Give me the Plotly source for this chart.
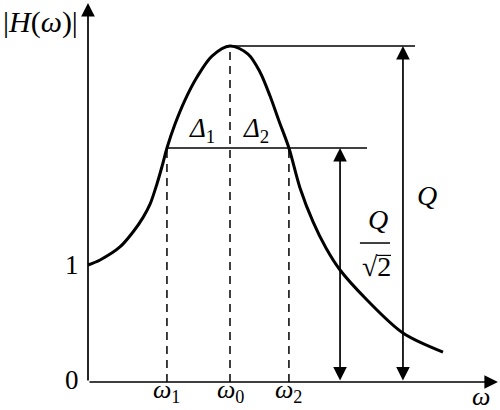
import plotly.graph_objects as go

# Curve (x: ω with ω0 = 1, y: |H(ω)|)
omega = [0.0, 0.085, 0.225, 0.317, 0.387, 0.437, 0.486, 0.528, 0.556, 0.613, 0.683, 0.768, 0.873,
         1.0, 1.127, 1.211, 1.282, 1.345, 1.415, 1.493, 1.585, 1.676, 1.775, 1.965, 2.218, 2.5]
H = [1.0, 1.043, 1.154, 1.282, 1.405, 1.520, 1.695, 1.872, 2.000, 2.205, 2.410, 2.607, 2.786,
     2.872, 2.803, 2.650, 2.444, 2.231, 2.000, 1.658, 1.368, 1.145, 0.957, 0.701, 0.419, 0.256]

w1, w0, w2 = 0.556, 1.0, 1.415
Q = 2.872
Q_half = 2.0
x_axis_end, y_axis_end = 2.887, 3.24
q_line_end, half_line_end = 2.303, 1.965
q_arrow_x, half_arrow_x = 2.218, 1.775

FONT = "Liberation Serif"
BLACK = "black"

fig = go.Figure()

fig.add_trace(go.Scatter(x=omega, y=H, mode="lines", line=dict(color=BLACK, width=3, shape="spline", smoothing=0.9),
                         hoverinfo="skip", showlegend=False))

# horizontal reference lines
fig.add_trace(go.Scatter(x=[w0, q_line_end], y=[Q, Q], mode="lines", line=dict(color=BLACK, width=1.5),
                         hoverinfo="skip", showlegend=False))
fig.add_trace(go.Scatter(x=[w1, half_line_end], y=[Q_half, Q_half], mode="lines", line=dict(color=BLACK, width=1.5),
                         hoverinfo="skip", showlegend=False))

# dashed verticals
for xv, yv in [(w1, Q_half), (w0, Q), (w2, Q_half)]:
    fig.add_trace(go.Scatter(x=[xv, xv], y=[0, yv], mode="lines", line=dict(color=BLACK, width=1.5, dash="8px,6px"),
                             hoverinfo="skip", showlegend=False))

def arrow(x0, y0, x1, y1, both=False):
    fig.add_annotation(x=x1, y=y1, ax=x0, ay=y0, xref="x", yref="y", axref="x", ayref="y",
                       showarrow=True, arrowhead=2, arrowsize=1.6, arrowwidth=1.7, arrowcolor=BLACK,
                       arrowside="end+start" if both else "end", startarrowhead=2, startarrowsize=1.6,
                       text="")

arrow(0, 0, x_axis_end, 0)
arrow(0, 0, 0, y_axis_end)
arrow(q_arrow_x, 0, q_arrow_x, Q, both=True)
arrow(half_arrow_x, 0, half_arrow_x, Q_half, both=True)

def label(x, y, text, size=26):
    fig.add_annotation(x=x, y=y, xref="x", yref="y", text=text, showarrow=False,
                       font=dict(family=FONT, size=size, color=BLACK))

label(-0.113, 1.0, "1", size=27)
label(-0.113, 0.02, "0", size=27)
label(-0.338, 3.077, "|<i>H</i>(<i>ω</i>)|", size=30)
label(w1, -0.08, "<i>ω</i><sub>1</sub>")
label(w0, -0.08, "<i>ω</i><sub>0</sub>")
label(w2, -0.08, "<i>ω</i><sub>2</sub>")
label(2.768, -0.12, "<i>ω</i>")
label(0.803, 2.154, "<i>Δ</i><sub>1</sub>", size=27)
label(1.183, 2.154, "<i>Δ</i><sub>2</sub>", size=27)
label(2.387, 1.598, "<i>Q</i>", size=28)
label(2.042, 1.385, "<i>Q</i>", size=28)
label(2.035, 0.99, "√2", size=28)
fig.add_shape(type="line", x0=1.915, x1=2.127, y0=1.188, y1=1.188, xref="x", yref="y", line=dict(color=BLACK, width=1.5))
fig.add_shape(type="line", x0=2.035, x1=2.134, y0=1.082, y1=1.082, xref="x", yref="y", line=dict(color=BLACK, width=1.2))

fig.update_layout(width=500, height=410, margin=dict(l=0, r=0, t=0, b=0),
                  paper_bgcolor="white", plot_bgcolor="white",
                  xaxis=dict(range=[-0.6197, 2.9014], visible=False, fixedrange=True),
                  yaxis=dict(range=[-0.2393, 3.265], visible=False, fixedrange=True))

fig.write_html("out.html", config={"displayModeBar": False},
               post_script="document.body.style.margin='0';document.body.style.overflow='hidden';")
